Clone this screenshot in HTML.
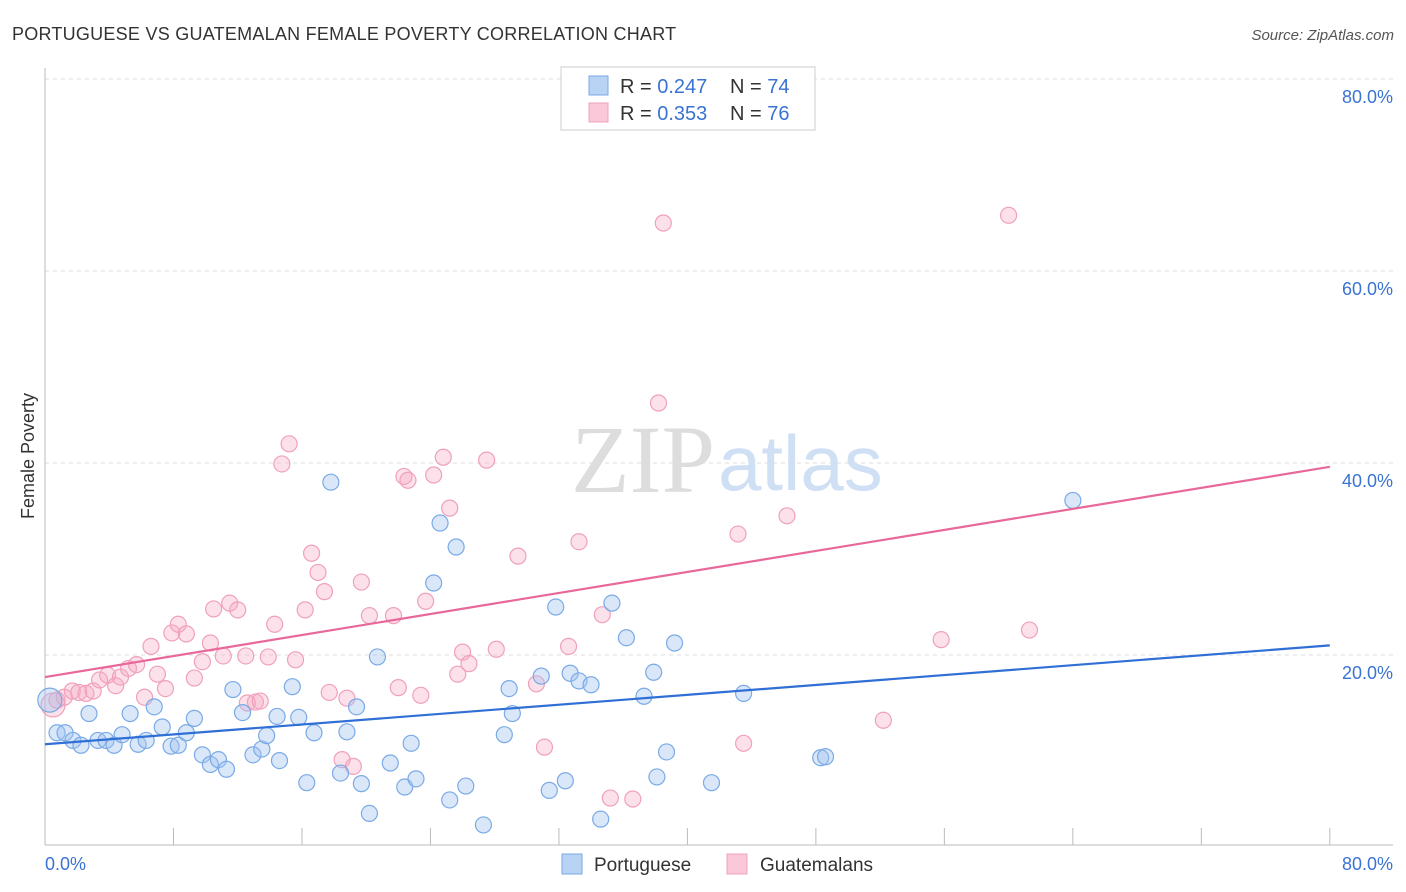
<!DOCTYPE html>
<html><head><meta charset="utf-8"><style>
body{margin:0;background:#fff;font-family:"Liberation Sans",sans-serif;}
#wrap{position:relative;width:1406px;height:892px;overflow:hidden;}
</style></head><body>
<div id="wrap">
<svg id="svg" width="1406" height="892" xmlns="http://www.w3.org/2000/svg">
<text x="12" y="40" font-size="18" fill="#333" letter-spacing="0.25">PORTUGUESE VS GUATEMALAN FEMALE POVERTY CORRELATION CHART</text>
<text x="1394" y="40" font-size="15" fill="#555" font-style="italic" text-anchor="end">Source: ZipAtlas.com</text>
<text x="0" y="0" transform="translate(34,456) rotate(-90)" font-size="18" fill="#333" text-anchor="middle">Female Poverty</text>
<text x="715" y="492" font-size="96" fill="#ddd" font-family="Liberation Serif,serif" text-anchor="end">ZIP</text>
<text x="718" y="490" font-size="78" fill="#cfe0f5" text-anchor="start">atlas</text>
<g id="grid"></g><g id="pts"></g><g id="lines"></g>
<rect x="561" y="67" width="254" height="63" fill="#fff" stroke="#ccc"/>
<rect x="589" y="76" width="19" height="19" fill="#b9d3f5" stroke="#7aaae6"/>
<rect x="589" y="103" width="19" height="19" fill="#fac8d8" stroke="#f0a0bc"/>
<text x="620" y="93" font-size="20" fill="#333">R = <tspan fill="#3a73d4">0.247</tspan><tspan x="730">N = </tspan><tspan fill="#3a73d4">74</tspan></text>
<text x="620" y="120" font-size="20" fill="#333">R = <tspan fill="#3a73d4">0.353</tspan><tspan x="730">N = </tspan><tspan fill="#3a73d4">76</tspan></text>
<rect x="562" y="854" width="20" height="20" fill="#b9d3f5" stroke="#7aaae6"/>
<text x="594" y="871" font-size="19" fill="#333">Portuguese</text>
<rect x="727" y="854" width="20" height="20" fill="#fac8d8" stroke="#f0a0bc"/>
<text x="760" y="871" font-size="19" fill="#333">Guatemalans</text>
<text x="45" y="870" font-size="18" fill="#3a73d4">0.0%</text>
<text x="1393" y="870" font-size="18" fill="#3a73d4" text-anchor="end">80.0%</text>
</svg></div>
<script>
const yTicks=[20,40,60,80];
const xTickVals=[0,8,16,24,32,40,48,56,64,72,80];
const blueX=[0.3,0.75,1.25,1.74,2.24,2.74,3.3,3.8,4.3,4.8,5.3,5.8,6.3,6.8,7.3,7.85,8.3,8.8,9.3,9.8,10.3,10.8,11.3,11.7,12.3,12.95,13.5,13.8,14.45,14.6,15.4,15.8,16.3,16.75,17.8,18.4,18.8,19.4,19.7,20.2,20.7,21.5,22.4,22.8,23.1,24.6,25.2,25.6,24.2,26.2,27.3,28.6,28.9,29.1,30.9,31.4,31.8,32.4,32.7,33.25,34.0,34.6,35.3,36.2,37.3,37.9,38.1,38.7,39.2,41.5,43.5,48.3,48.6,64.0];
const blueY=[15.3,11.9,11.9,11.1,10.6,13.9,11.1,11.1,10.6,11.7,13.9,10.7,11.1,14.6,12.5,10.5,10.6,11.9,13.4,9.6,8.6,9.1,8.1,16.4,14.0,9.6,10.2,11.6,13.6,9.0,16.7,13.5,6.7,11.9,38.0,7.7,12.0,14.6,6.6,3.5,19.8,8.75,6.25,10.8,7.1,33.75,4.9,31.25,27.5,6.35,2.3,11.7,16.5,13.9,17.8,5.9,25.0,6.9,18.1,17.3,16.9,2.9,25.4,21.8,15.7,18.2,7.3,9.9,21.25,6.7,16.0,9.3,9.4,36.1];
const pinkX=[0.5,0.75,1.2,1.7,2.1,2.55,3.0,3.4,3.9,4.4,4.7,5.2,5.7,6.2,6.6,7.0,7.5,7.9,8.3,8.8,9.3,9.8,10.3,10.5,11.1,11.5,12.0,12.5,12.6,13.1,13.4,13.9,14.3,14.75,15.2,15.6,16.2,16.6,17.0,17.4,17.7,18.5,18.8,19.2,19.7,20.2,21.7,22.0,22.35,22.6,23.4,23.7,24.2,24.8,25.2,25.7,26.0,26.4,27.5,28.1,29.45,30.6,31.1,32.6,33.25,34.7,35.2,36.6,38.2,38.5,43.15,43.5,46.2,52.2,55.8,60.0,61.3];
const pinkY=[14.8,15.3,15.6,16.25,16.1,16.0,16.25,17.4,17.9,16.8,17.7,18.6,19.0,15.6,20.9,18.0,16.5,22.3,23.2,22.2,17.6,19.3,21.25,24.8,19.9,25.4,24.7,19.9,15.0,15.1,15.2,19.8,23.2,39.9,42.0,19.5,24.7,30.6,28.6,26.6,16.1,9.1,15.5,8.4,27.6,24.1,24.1,16.6,38.6,38.2,15.8,25.6,38.75,40.6,35.3,18.0,20.3,19.1,40.3,20.6,30.3,17.0,10.4,20.9,31.8,24.2,5.1,5.0,46.25,65.0,32.6,10.8,34.5,13.2,21.6,65.8,22.6];
const blueTrend=[10.7,21.0];
const pinkTrend=[17.7,39.6];
const NS="http://www.w3.org/2000/svg";
const sx=v=>45+v*16.06, sy=v=>847-v*9.6;
function mk(t,a,p){const e=document.createElementNS(NS,t);for(const k in a)e.setAttribute(k,a[k]);p.appendChild(e);return e;}
const grid=document.getElementById('grid');
yTicks.forEach(t=>{
 const l=mk('line',{x1:45,x2:1393,y1:sy(t),y2:sy(t),stroke:'#ddd','stroke-dasharray':'4,4'},grid);
 
 
 const tx=mk('text',{x:1393,y:sy(t)+24,'font-size':18,fill:'#3a73d4','text-anchor':'end'},grid);
 tx.textContent=t.toFixed(1)+'%';
 
 
});
let ax=mk('line',{x1:45,x2:45,y1:68,y2:845,stroke:'#bbb'},grid);


ax=mk('line',{x1:45,x2:1393,y1:845,y2:845,stroke:'#bbb'},grid);


xTickVals.forEach(t=>{
 const l=mk('line',{x1:sx(t),x2:sx(t),y1:828,y2:845,stroke:'#bbb'},grid);
 
 
});
const pts=document.getElementById('pts');
function dots(X,Y,fill,stroke,name){
 X.forEach((x,i)=>{
  const c=mk('circle',{cx:sx(x),cy:sy(Y[i]),r:i==0?12:8,fill:fill,stroke:stroke,'stroke-width':1.2},pts);
  
  
 });
}
dots(pinkX,pinkY,'rgba(246,170,196,0.35)','#f0a0bc','guatemalan-point');
dots(blueX,blueY,'rgba(160,196,240,0.4)','#7aaae6','portuguese-point');
const lines=document.getElementById('lines');
let tl=mk('line',{x1:sx(0),x2:sx(80),y1:sy(blueTrend[0]),y2:sy(blueTrend[1]),stroke:'#2f6fd6','stroke-width':2.2},lines);


tl=mk('line',{x1:sx(0),x2:sx(80),y1:sy(pinkTrend[0]),y2:sy(pinkTrend[1]),stroke:'#e8689a','stroke-width':2.2},lines);


</script>
</body></html>
